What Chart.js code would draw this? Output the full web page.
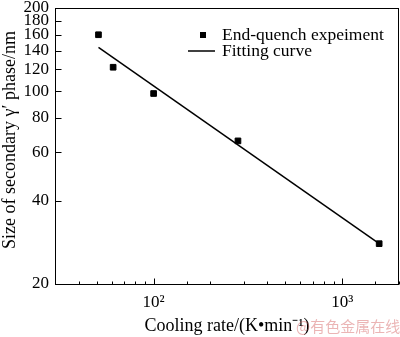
<!DOCTYPE html>
<html>
<head>
<meta charset="utf-8">
<script src="https://cdn.jsdelivr.net/npm/chart.js@4.4.0/dist/chart.umd.min.js"></script>
<style>
html, body { margin: 0; padding: 0; background: #fff; }
#wrap { position: relative; width: 400px; height: 337px; }
</style>
</head>
<body>
<div id="wrap"><canvas id="myChart"></canvas></div>
<script>
var rates = [51, 61, 100, 280, 1570];
var sizes = [160, 122, 98, 66, 28];
var fitRates = [51, 1550];
var fitSizes = [144, 28.2];
var yTicks = [20, 40, 60, 80, 100, 120, 140, 160, 180, 200];
var xTickText = { 100: '10\u00B2', 1000: '10\u00B3' };
var yTitle = 'Size of secondary \u03B3\u2032 phase/nm';

var serif = "'Liberation Serif', 'Times New Roman', serif";

function isDecade(v) {
  var l = Math.log10(v);
  return Math.abs(l - Math.round(l)) < 1e-6;
}

function noPad(s) {
  s.paddingTop = 0;
  s.paddingBottom = 0;
  s.paddingLeft = 0;
  s.paddingRight = 0;
}

// box around the plot, inward tick marks, y title, legend, watermark
var frame = {
  id: 'frame',
  afterDraw: function (chart) {
    var c = chart.ctx, a = chart.chartArea;
    var xs = chart.scales.x, ys = chart.scales.y;
    var L = Math.round(a.left) + 0.5, T = Math.round(a.top) + 0.5;
    var R = Math.round(a.right) - 0.5, B = Math.round(a.bottom) + 0.5;
    c.save();
    c.strokeStyle = '#000';
    c.lineWidth = 1;
    c.strokeRect(L, T, R - L, B - T);
    c.beginPath();
    xs.ticks.forEach(function (t) {
      var px = Math.round(xs.getPixelForValue(t.value)) + 0.5;
      var len = isDecade(t.value) ? 6 : 3;
      c.moveTo(px, B);
      c.lineTo(px, B - len);
    });
    ys.ticks.forEach(function (t) {
      var py = Math.round(ys.getPixelForValue(t.value)) + 0.5;
      c.moveTo(L, py);
      c.lineTo(L + 6, py);
    });
    c.stroke();

    c.fillStyle = '#000';
    c.textBaseline = 'middle';
    c.textAlign = 'center';
    c.font = '18px ' + serif;
    c.save();
    c.translate(10, 140);
    c.rotate(-Math.PI / 2);
    c.fillText(yTitle, 0, 0);
    c.restore();

    // legend
    var ds = chart.data.datasets;
    c.textAlign = 'left';
    c.font = '17.5px ' + serif;
    c.fillRect(200, 32, 6, 6);
    c.fillText(ds[0].label, 222, 35);
    c.lineWidth = 1.5;
    c.beginPath();
    c.moveTo(188, 51);
    c.lineTo(215, 51);
    c.stroke();
    c.fillText(ds[1].label, 222, 51);

    c.font = "15px 'Noto Sans CJK SC'";
    c.fillStyle = 'rgba(210, 90, 90, 0.45)';
    c.textBaseline = 'alphabetic';
    c.fillText('@有色金属在线', 296, 332);
    c.restore();
  }
};

var ctx = document.getElementById('myChart');

var myChart = new Chart(ctx, {
  type: 'scatter',
  data: {
    datasets: [{
      label: 'End-quench expeiment',
      data: rates.map(function (r, i) { return { x: r, y: sizes[i] }; }),
      pointStyle: 'rect',
      radius: 4,
      backgroundColor: '#000',
      borderColor: '#000',
      borderWidth: 1
    }, {
      type: 'line',
      label: 'Fitting curve',
      data: fitRates.map(function (r, i) { return { x: r, y: fitSizes[i] }; }),
      borderColor: '#000',
      borderWidth: 1.5,
      pointRadius: 0,
      fill: false
    }]
  },
  options: {
    responsive: true,
    maintainAspectRatio: false,
    animation: false,
    layout: { autoPadding: false, padding: { top: 8, right: 1, left: 0, bottom: 0 } },
    plugins: {
      legend: { display: false },
      tooltip: { enabled: false }
    },
    scales: {
      x: {
        type: 'logarithmic',
        min: 30,
        max: 2000,
        grid: { display: false, drawTicks: false },
        border: { display: false },
        ticks: {
          autoSkip: false,
          maxRotation: 0,
          padding: 8,
          color: '#000',
          font: { family: serif, size: 17 },
          callback: function (v) { return xTickText[v] || ''; }
        },
        title: {
          display: true,
          text: 'Cooling rate/(K\u2022min\u207B\u00B9)',
          color: '#000',
          font: { family: serif, size: 18 },
          padding: { top: 0, bottom: 0 }
        },
        afterFit: function (s) { s.height = 53; noPad(s); }
      },
      y: {
        type: 'logarithmic',
        min: 20,
        max: 200,
        grid: { display: false, drawTicks: false },
        border: { display: false },
        afterBuildTicks: function (s) {
          s.ticks = yTicks.map(function (v) { return { value: v }; });
        },
        ticks: {
          padding: 6,
          color: '#000',
          font: { family: serif, size: 17, lineHeight: 0.9 },
          callback: function (v) { return String(v); }
        },
        afterFit: function (s) { s.width = 55; noPad(s); }
      }
    }
  },
  plugins: [frame]
});
</script>
</body>
</html>
